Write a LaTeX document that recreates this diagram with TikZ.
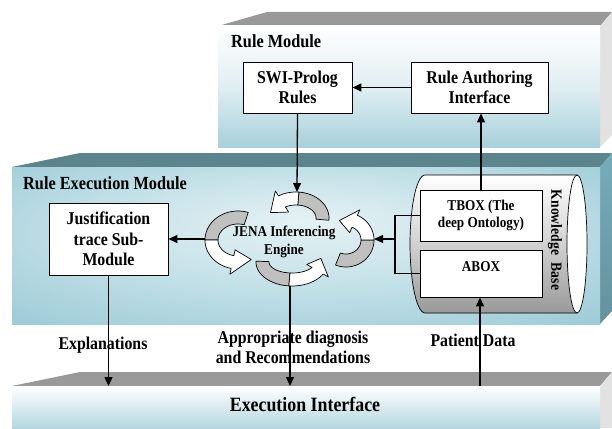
\documentclass[tikz,border=0pt]{standalone}
\usepackage{fontspec}
\setmainfont{Liberation Serif}[FakeStretch=0.88]
\usetikzlibrary{arrows.meta}

\definecolor{greytop}{RGB}{153,153,153}
\definecolor{greyside}{RGB}{226,226,226}
\definecolor{tealtop}{RGB}{92,132,140}
\definecolor{tealside}{RGB}{118,172,186}
\definecolor{paleblue}{RGB}{168,208,219}
\definecolor{glowA}{RGB}{230,242,245}
\definecolor{glowB}{RGB}{196,225,232}
\definecolor{glowC}{RGB}{130,188,203}
\definecolor{ribbongray}{RGB}{192,192,192}

\pgfdeclareradialshading{slabglow}{\pgfpoint{0bp}{8bp}}{%
  color(0bp)=(glowA); color(18bp)=(glowB); color(50bp)=(glowC)}

% one twisted circular arrow of the inference cycle:
% centre x, centre y, outer x radius, outer y radius, band width,
% start angle, angle where the band turns, angle where the head starts
\newcommand{\cyclearrow}[8]{%
  \begin{scope}[shift={(#1,#2)}]
    \filldraw[ribbon, fill=ribbongray]
      plot[domain=#6:#7, samples=25] ({#3*cos(\x)},{#4*sin(\x)})
      -- plot[domain=#7:#6, samples=25] ({(#3-#5)*cos(\x)},{(#4-#5)*sin(\x)})
      -- cycle;
    \filldraw[ribbon, fill=white]
      plot[domain=#7:#8, samples=25] ({#3*cos(\x)},{#4*sin(\x)})
      -- ({(#3+6)*cos(#8)},{(#4+6)*sin(#8)})
      -- ({(#3-#5/2)*cos(#8-42)},{(#4-#5/2)*sin(#8-42)})
      -- ({(#3-#5-6)*cos(#8)},{(#4-#5-6)*sin(#8)})
      -- plot[domain=#8:#7, samples=25] ({(#3-#5)*cos(\x)},{(#4-#5)*sin(\x)})
      -- cycle;
  \end{scope}}

\begin{document}
\begin{tikzpicture}[x=1pt,y=-1pt,
  box/.style={draw, fill=white, line width=0.9pt, align=center, inner sep=0pt,
    font=\bfseries\fontsize{18}{20.5}\selectfont},
  smallbox/.style={box, font=\bfseries\fontsize{15}{17}\selectfont},
  lbl/.style={inner sep=0pt, align=center, font=\bfseries\fontsize{18}{20}\selectfont},
  title/.style={lbl, font=\bfseries\fontsize{18.5}{20}\selectfont},
  link/.style={line width=1.3pt, -{Triangle[length=9pt,width=8pt]}},
  plain/.style={line width=1.3pt},
  ribbon/.style={line width=0.7pt, line join=round},
  outline/.style={line width=0.7pt}]

\useasboundingbox (0,0) rectangle (612,428);
\fill[white] (0,0) rectangle (612,428);

% upper slab: rule module
\fill[greytop] (218,26) -- (267,12) -- (612,12) -- (600,26) -- cycle;
\fill[greyside] (600,26) -- (612,12) -- (612,135) -- (600,147) -- cycle;
\shade[top color=white, bottom color=paleblue, middle color=paleblue!35!white]
  (218,26) rectangle (600,147);

% middle slab: rule execution module
\fill[tealtop] (12,167) -- (80,153) -- (612,153) -- (600,167) -- cycle;
\shade[top color=tealside, bottom color=tealside!85!black]
  (600,167) -- (612,153) -- (612,311) -- (600,324) -- cycle;
\shade[shading=slabglow] (12,167) rectangle (600,324);

% lower slab: execution interface
\fill[greytop] (12,386) -- (80,372) -- (612,372) -- (600,386) -- cycle;
\fill[greyside] (600,386) -- (612,372) -- (612,428) -- (600,428) -- cycle;
\shade[top color=white, bottom color=paleblue!85!white] (12,386) rectangle (600,428);

% knowledge base cylinder
\shadedraw[outline, top color=white, bottom color=black!40, middle color=black!18]
  (425,175) -- (577,175) -- (577,313) -- (425,313)
  -- plot[domain=90:270, samples=30] ({425+15*cos(\x)},{244+69*sin(\x)}) -- cycle;
\draw[outline, fill=white] (577,244) ellipse [x radius=10, y radius=69];

% section titles
\node[title, anchor=base west] (rmod) at (231,48) {Rule Module};
\node[title, anchor=base west] (remod) at (23,189) {Rule Execution Module};

% boxes
\node[box, minimum width=109pt, minimum height=51pt] (swi) at (297.5,87.5) {SWI-Prolog\\Rules};
\node[box, minimum width=137pt, minimum height=51pt] (rai) at (479.5,87.5) {Rule Authoring\\Interface};
\node[box, minimum width=119pt, minimum height=72pt] (just) at (108.5,239) {Justification\\trace Sub-\\Module};
\node[smallbox, minimum width=122pt, minimum height=51pt] (tbox) at (481,215.5) {TBOX (The\\deep Ontology)};
\node[smallbox, minimum width=122pt, minimum height=47pt] (abox) at (481,273.5) {};
\node[lbl, font=\bfseries\fontsize{15}{17}\selectfont] (aboxlbl) at (481,267) {ABOX};
\node[lbl, rotate=-90, font=\bfseries\fontsize{15.5}{17}\selectfont] (kb) at (555,240)
  {Knowledge\hspace{0.5em}Base};

% inference engine cycle
\cyclearrow{296}{218}{33}{26}{13}{5}{-85}{-122}
\cyclearrow{346}{240}{28}{27}{13}{112}{0}{-66}
\cyclearrow{238}{240}{33}{29}{13}{-72}{-180}{-258}
\cyclearrow{292}{262}{36}{24}{13}{182}{95}{30}
\node[lbl, font=\bfseries\fontsize{15}{18}\selectfont] (jena) at (284,242) {JENA Inferencing\\Engine};
\coordinate (engT) at (297,192);
\coordinate (engR) at (374,239);
\coordinate (engL) at (205,239);
\coordinate (engB) at (290,286);

% flow labels
\node[lbl, anchor=base] (expl) at (103,349) {Explanations};
\node[lbl, anchor=north] (diag) at (293,330.5) {Appropriate diagnosis\\and Recommendations};
\node[lbl, anchor=base] (pdata) at (473,346) {Patient Data};
\node[lbl, anchor=base, font=\bfseries\fontsize{20.3}{22}\selectfont] (exec) at (305,411) {Execution Interface};

% ends of the connectors on the execution interface
\coordinate (outJ) at (108.5,386);
\coordinate (outE) at (290,386);
\coordinate (inP) at (480,386);
\coordinate (brkM) at (395,239);

% connectors
\draw[link] (rai.west) -- (swi.east);
\draw[link] (swi.south) -- (engT);
\draw[link] (tbox.north |- tbox.north) -- (tbox.north |- rai.south);
\draw[plain] (tbox.west) -| (brkM) |- (abox.west);
\draw[link] (brkM) -- (engR);
\draw[link] (engL) -- (just.east);
\draw[link] (just.south) -- (outJ);
\draw[link] (engB) -- (outE);
\draw[link] (inP) -- (inP |- abox.south);
\end{tikzpicture}
\end{document}
